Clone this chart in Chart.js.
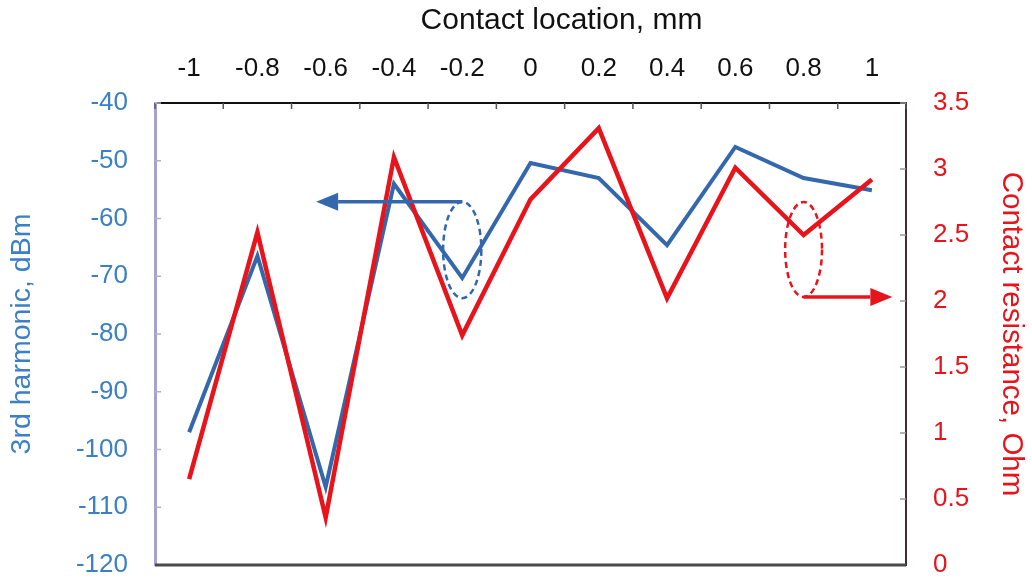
<!DOCTYPE html>
<html>
<head>
<meta charset="utf-8">
<script src="https://cdn.jsdelivr.net/npm/chart.js@4.4.1/dist/chart.umd.min.js"></script>
<style>
  html, body { margin: 0; padding: 0; background: #fff; }
  #wrap { width: 1032px; height: 579px; position: relative; }
</style>
</head>
<body>
<div id="wrap"><canvas id="depthChart"></canvas></div>
<script>
// contact location along the x axis (top)
const locations = ['-1', '-0.8', '-0.6', '-0.4', '-0.2', '0', '0.2', '0.4', '0.6', '0.8', '1'];
// 3rd harmonic, dBm (left axis)
const harmonic = [-97, -66.5, -106.5, -54, -70.3, -50.4, -53, -64.6, -47.6, -53, -55.1];
// contact resistance, Ohm (right axis)
const resistance = [0.65, 2.52, 0.36, 3.09, 1.74, 2.77, 3.31, 2.02, 3.01, 2.5, 2.92];

const BLUE = '#3468ad';
const BLUE_TEXT = '#3b80c4';
const RED = '#e8141b';
const FONT = "'Liberation Sans', Arial, sans-serif";
const X_TITLE = 'Contact location, mm';

// dashed ellipse + arrow callouts, given in data units of the axis they point to
const callouts = [
  { axis: 'y', color: BLUE, at: 4, halfWidth: 0.28, top: -57.1, bottom: -73.8, from: 'top', tip: 1.86 },
  { axis: 'y2', color: RED, at: 9, halfWidth: 0.27, top: 2.75, bottom: 2.03, from: 'bottom', tip: 10.3 }
];

const calloutPlugin = {
  id: 'callouts',
  afterDatasetsDraw(chart) {
    const ctx = chart.ctx;
    const xs = chart.scales.x;
    callouts.forEach(c => {
      const ys = chart.scales[c.axis];
      const cx = xs.getPixelForValue(c.at);
      const rx = xs.getPixelForValue(c.at + c.halfWidth) - cx;
      const yTop = ys.getPixelForValue(c.top);
      const yBot = ys.getPixelForValue(c.bottom);
      const cy = (yTop + yBot) / 2;
      const ry = (yBot - yTop) / 2;
      ctx.save();
      ctx.strokeStyle = c.color;
      ctx.fillStyle = c.color;
      ctx.lineWidth = 2.5;
      ctx.setLineDash([6, 4]);
      ctx.beginPath();
      ctx.ellipse(cx, cy, rx, ry, 0, 0, Math.PI * 2);
      ctx.stroke();
      ctx.setLineDash([]);
      const ay = c.from === 'top' ? yTop : yBot;
      const tipX = xs.getPixelForValue(c.tip);
      const dir = tipX < cx ? -1 : 1;
      const headLen = 22;
      ctx.lineWidth = 3.5;
      ctx.beginPath();
      ctx.moveTo(cx, ay);
      ctx.lineTo(tipX - dir * headLen, ay);
      ctx.stroke();
      ctx.beginPath();
      ctx.moveTo(tipX, ay);
      ctx.lineTo(tipX - dir * headLen, ay - 9);
      ctx.lineTo(tipX - dir * headLen, ay + 9);
      ctx.closePath();
      ctx.fill();
      ctx.restore();
    });
  }
};

// small tick marks pointing into the plot, the bottom frame line and the x title
const frameExtras = {
  id: 'frameExtras',
  afterDraw(chart) {
    const ctx = chart.ctx;
    const a = chart.chartArea;
    const xs = chart.scales.x;
    ctx.save();
    ctx.lineWidth = 1.5;
    ctx.strokeStyle = '#555';
    for (let i = 0; i <= locations.length; i++) {
      const px = xs.getPixelForValue(i - 0.5);
      ctx.beginPath();
      ctx.moveTo(px, a.top);
      ctx.lineTo(px, a.top + 6);
      ctx.stroke();
    }
    ctx.strokeStyle = '#b0b0c8';
    chart.scales.y.ticks.forEach(t => {
      const py = chart.scales.y.getPixelForValue(t.value);
      ctx.beginPath();
      ctx.moveTo(a.left, py);
      ctx.lineTo(a.left + 6, py);
      ctx.stroke();
    });
    ctx.strokeStyle = '#999';
    chart.scales.y2.ticks.forEach(t => {
      const py = chart.scales.y2.getPixelForValue(t.value);
      ctx.beginPath();
      ctx.moveTo(a.right, py);
      ctx.lineTo(a.right - 6, py);
      ctx.stroke();
    });
    ctx.strokeStyle = '#4a4a4a';
    ctx.lineWidth = 3;
    ctx.beginPath();
    ctx.moveTo(a.left, a.bottom);
    ctx.lineTo(a.right, a.bottom);
    ctx.stroke();

    // axis title sits a little right of the plot centre in the original
    ctx.fillStyle = '#111';
    ctx.font = '30px ' + FONT;
    ctx.textAlign = 'center';
    ctx.textBaseline = 'middle';
    ctx.fillText(X_TITLE, (a.left + a.right) / 2 + 31, 21);
    ctx.restore();
  }
};

new Chart(document.getElementById('depthChart'), {
  type: 'line',
  data: {
    labels: locations,
    datasets: [
      {
        label: 'Contact resistance',
        data: resistance,
        yAxisID: 'y2',
        borderColor: RED,
        borderWidth: 4.5,
        pointRadius: 0,
        tension: 0,
        order: 1
      },
      {
        label: '3rd harmonic',
        data: harmonic,
        yAxisID: 'y',
        borderColor: BLUE,
        borderWidth: 4,
        pointRadius: 0,
        tension: 0,
        order: 2
      }
    ]
  },
  options: {
    responsive: true,
    maintainAspectRatio: false,
    animation: false,
    layout: { padding: { bottom: 14 } },
    plugins: {
      legend: { display: false },
      tooltip: { enabled: false }
    },
    scales: {
      x: {
        type: 'category',
        position: 'top',
        offset: true,
        grid: { display: false, drawTicks: false },
        border: { display: true, color: '#111', width: 2 },
        ticks: {
          color: '#111',
          padding: 19,
          maxRotation: 0,
          autoSkip: false,
          font: { family: FONT, size: 26 }
        },
        afterFit(scale) { scale.height = 103; }
      },
      y: {
        position: 'left',
        min: -120,
        max: -40,
        grid: { display: false, drawTicks: false },
        border: { display: true, color: '#a3a3d2', width: 3 },
        ticks: {
          stepSize: 10,
          color: BLUE_TEXT,
          padding: 27,
          font: { family: FONT, size: 26 }
        },
        title: {
          display: true,
          text: '3rd harmonic, dBm',
          color: BLUE_TEXT,
          padding: { top: 5, bottom: 0 },
          font: { family: FONT, size: 28.5 }
        },
        afterFit(scale) {
          scale.width = 155;
          scale.paddingTop = 0;
          scale.paddingBottom = 0;
        }
      },
      y2: {
        position: 'right',
        min: 0,
        max: 3.5,
        grid: { display: false, drawTicks: false },
        border: { display: true, color: '#3d2f35', width: 2 },
        ticks: {
          stepSize: 0.5,
          color: RED,
          padding: 27,
          font: { family: FONT, size: 26 },
          callback: (value) => String(value)
        },
        title: {
          display: true,
          text: 'Contact resistance, Ohm',
          color: RED,
          padding: { top: 3, bottom: 0 },
          font: { family: FONT, size: 29.5 }
        },
        afterFit(scale) {
          scale.width = 126;
          scale.paddingTop = 0;
          scale.paddingBottom = 0;
        }
      }
    }
  },
  plugins: [calloutPlugin, frameExtras]
});
</script>
</body>
</html>
